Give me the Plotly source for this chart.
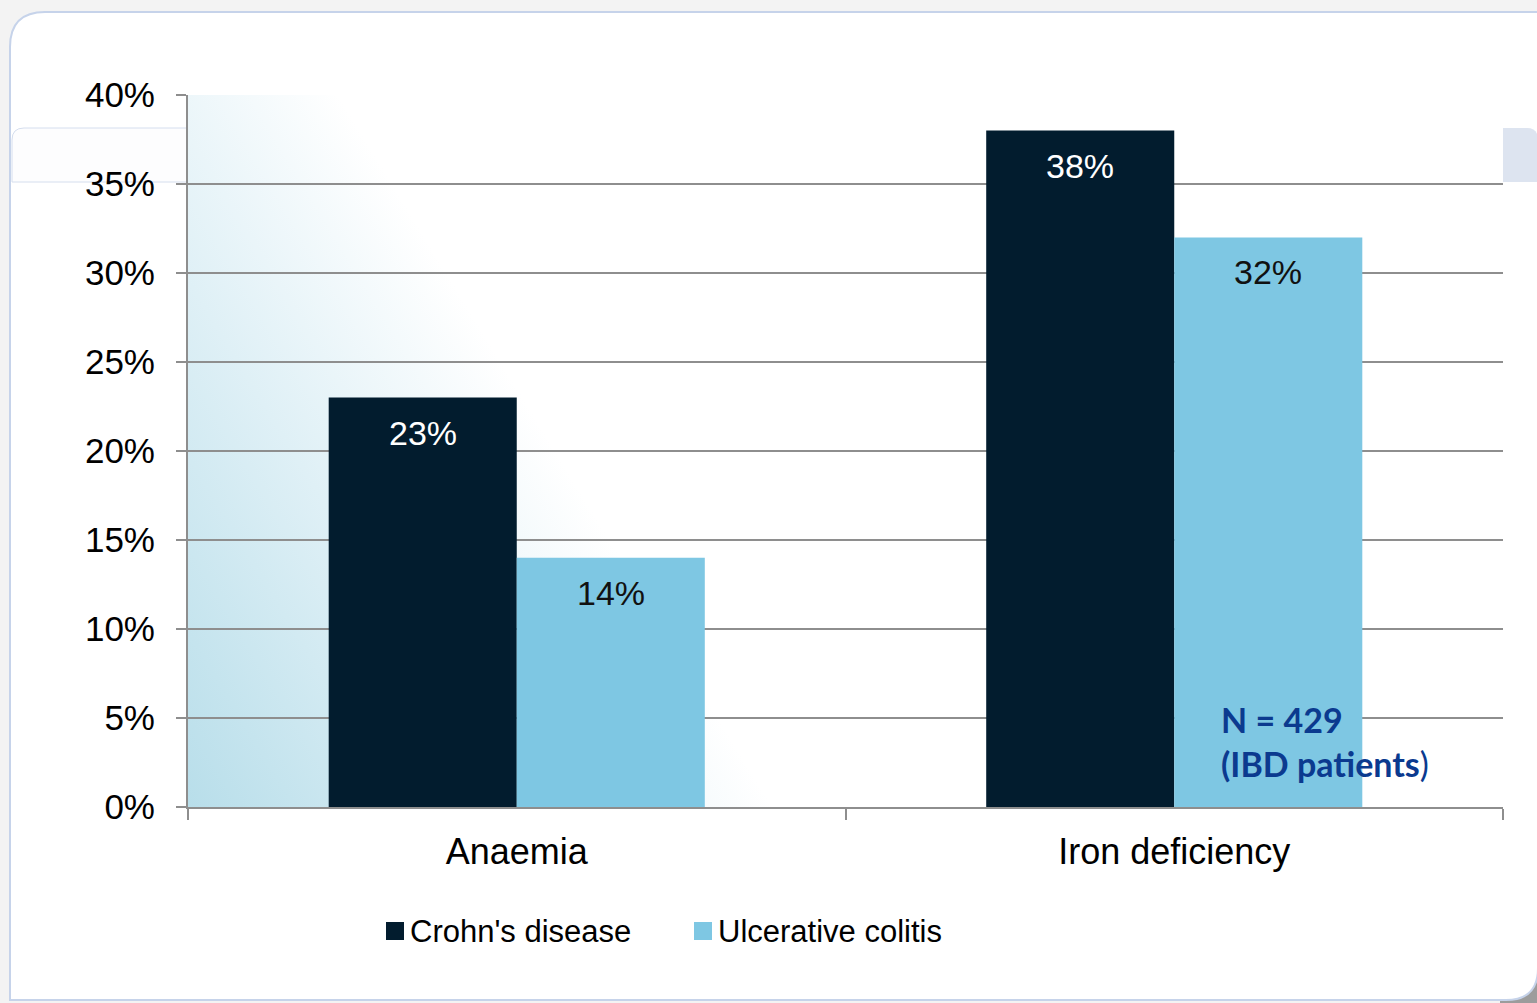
import base64
import plotly.graph_objects as go

# ---- data -------------------------------------------------------------
categories = ["Anaemia", "Iron deficiency"]
series_names = ["Crohn's disease", "Ulcerative colitis"]
crohns = [23, 38]
colitis = [14, 32]
y_ticks = [0, 5, 10, 15, 20, 25, 30, 35, 40]
note_lines = ["N = 429", "(IBD patients"]

# ---- styling ------------------------------------------------------------
W, H = 1537, 1003
L, R, T, B = 188, 1503, 95, 807          # plot area in pixels
PW, PH = R - L, B - T
FONT = "Liberation Sans, Arial, sans-serif"
C_CD = "#021c2e"
C_UC = "#7ec7e3"
GRID = "#8e8e8e"
BARGAP = 0.428


def px(x):
    return (x - L) / PW


def py(y):
    return (B - y) / PH


fig = go.Figure()
fig.add_trace(go.Bar(x=categories, y=crohns, name=series_names[0],
                     marker=dict(color=C_CD, line=dict(width=0))))
fig.add_trace(go.Bar(x=categories, y=colitis, name=series_names[1],
                     marker=dict(color=C_UC, line=dict(width=0))))

# value labels just inside the top of each bar
bar_w = (1 - BARGAP) / 2
annotations = []
for i, cat in enumerate(categories):
    for vals, off, col in ((crohns, -bar_w / 2, "white"), (colitis, bar_w / 2, "#111111")):
        annotations.append(dict(
            x=i + off, y=vals[i], xref="x", yref="y", text=f"{vals[i]}%",
            showarrow=False, yanchor="middle", yshift=-35,
            font=dict(family=FONT, size=34, color=col)))

# sample size note
annotations.append(dict(
    x=px(1219), y=py(697), xref="paper", yref="paper", xanchor="left", yanchor="top",
    align="left", showarrow=False,
    text=f"<b>{note_lines[0]}</b><br><b>{note_lines[1]}</b>)",
    font=dict(family="Lato, Open Sans, sans-serif", size=34, color="#0b3a8f")))

# legend rendered as swatches + labels below the axis
shapes = []
legend_items = [(series_names[0], C_CD, 386), (series_names[1], C_UC, 694)]
for name, col, x0 in legend_items:
    shapes.append(dict(type="rect", xref="paper", yref="paper",
                       x0=px(x0), x1=px(x0 + 18), y0=py(940), y1=py(922),
                       fillcolor=col, line=dict(width=0), layer="above"))
    annotations.append(dict(x=px(x0 + 22), y=py(931), xref="paper", yref="paper",
                            xanchor="left", yanchor="middle", showarrow=False, text=name,
                            font=dict(family=FONT, size=31, color="#000000")))

# rounded slide panel behind the chart, with a shadow at its lower right corner
shapes.insert(0, dict(type="rect", xref="paper", yref="paper",
                      x0=px(1500), x1=px(1545), y0=py(1010), y1=py(960),
                      fillcolor="#9c9c9c", line=dict(width=0), layer="below"))
panel = (f"M {px(10)},{py(1000)} L {px(10)},{py(47)} "
         f"Q {px(10)},{py(12)} {px(45)},{py(12)} "
         f"L {px(1538)},{py(12)} L {px(1538)},{py(968)} "
         f"Q {px(1538)},{py(1000)} {px(1506)},{py(1000)} Z")
shapes.insert(1, dict(type="path", xref="paper", yref="paper", path=panel,
                      fillcolor="#ffffff", line=dict(color="#c6d3ea", width=2), layer="below"))
# faint strip of the slide behind the chart
strip_left = (f"M {px(12)},{py(182)} L {px(12)},{py(140)} "
              f"Q {px(12)},{py(128)} {px(24)},{py(128)} L {px(188)},{py(128)} "
              f"L {px(188)},{py(182)} Z")
shapes.insert(2, dict(type="path", xref="paper", yref="paper", path=strip_left,
                      fillcolor="#fdfdfe", line=dict(color="#d5deee", width=1), layer="below"))
strip_right = (f"M {px(1503)},{py(182)} L {px(1503)},{py(128)} L {px(1527)},{py(128)} "
               f"Q {px(1537)},{py(128)} {px(1538)},{py(138)} L {px(1538)},{py(182)} Z")
shapes.insert(3, dict(type="path", xref="paper", yref="paper", path=strip_right,
                      fillcolor="#dde4f0", line=dict(width=0), layer="below"))

# diagonal light-blue wash in the plot area (bottom-left towards upper right)
svg = (f'<svg xmlns="http://www.w3.org/2000/svg" width="{PW}" height="{PH}" '
       f'viewBox="0 0 {PW} {PH}" preserveAspectRatio="none"><defs>'
       f'<linearGradient id="g" gradientUnits="userSpaceOnUse" '
       f'x1="0" y1="{PH}" x2="426" y2="452"><stop offset="0" stop-color="#b8deea"/>'
       f'<stop offset="0.55" stop-color="#dff0f6"/>'
       f'<stop offset="1" stop-color="#ffffff"/></linearGradient></defs>'
       f'<rect width="{PW}" height="{PH}" fill="url(#g)"/></svg>')
wash = "data:image/svg+xml;base64," + base64.b64encode(svg.encode()).decode()

fig.update_layout(
    width=W, height=H, autosize=False,
    margin=dict(l=L, r=W - R, t=T, b=H - B, pad=0),
    paper_bgcolor="#f3f3f3", plot_bgcolor="rgba(0,0,0,0)",
    barmode="group", bargap=BARGAP, bargroupgap=0,
    showlegend=False,
    font=dict(family=FONT, color="#000000"),
    annotations=annotations, shapes=shapes,
    images=[dict(source=wash, xref="x domain", yref="y domain", x=0, y=1,
                 sizex=1, sizey=1, xanchor="left", yanchor="top",
                 sizing="stretch", layer="below")],
)
fig.update_yaxes(range=[0, 40], tickvals=y_ticks, ticktext=[f"{v}%" for v in y_ticks],
                 showgrid=True, gridcolor=GRID, gridwidth=1.5,
                 showline=True, linecolor=GRID, linewidth=2,
                 ticks="outside", ticklen=10, tickcolor=GRID, tickwidth=2,
                 ticklabelstandoff=14, zeroline=False,
                 tickfont=dict(family=FONT, size=35, color="#000000"))
fig.update_xaxes(type="category", tickson="boundaries", showgrid=False,
                 showline=True, linecolor=GRID, linewidth=2,
                 ticks="outside", ticklen=11, tickcolor=GRID, tickwidth=2,
                 ticklabelstandoff=12,
                 tickfont=dict(family=FONT, size=36, color="#000000"))

fig.write_html("out.html")
